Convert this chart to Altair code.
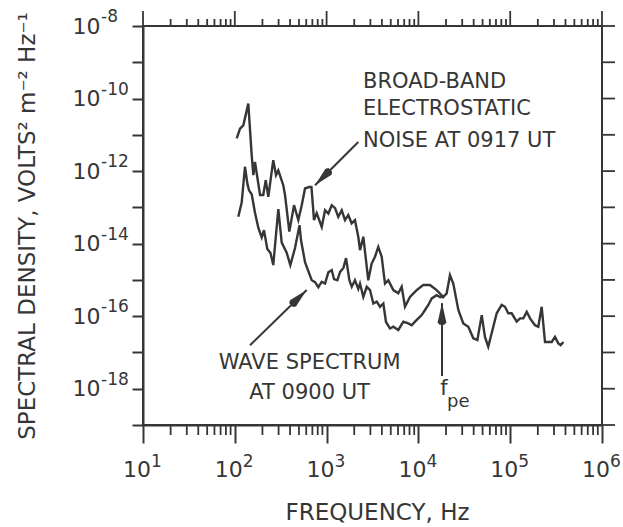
import altair as alt
import pandas as pd

FONT = "DejaVu Sans"
INK = "#363636"

# Broad-band electrostatic noise at 0917 UT
# log10 frequency (Hz) / log10 spectral density (V^2 m^-2 Hz^-1)
bbn_logf = [2.021, 2.057, 2.093, 2.147, 2.184, 2.202, 2.220, 2.275, 2.310, 2.337,
            2.365, 2.419, 2.449, 2.474, 2.528, 2.547, 2.594, 2.645, 2.692, 2.729,
            2.765, 2.808, 2.835, 2.863, 2.892, 2.947, 2.983, 3.019, 3.056, 3.092,
            3.127, 3.165, 3.200, 3.236, 3.273, 3.309, 3.345, 3.364, 3.400, 3.454,
            3.491, 3.527, 3.563, 3.600, 3.636, 3.672, 3.727, 3.781, 3.818, 3.854,
            3.908, 3.981, 4.053, 4.126, 4.199, 4.271, 4.308, 4.344, 4.380, 4.435,
            4.489, 4.544, 4.598, 4.642, 4.690, 4.725, 4.761, 4.798, 4.853, 4.907,
            4.943, 4.979, 5.016, 5.071, 5.107, 5.143, 5.180, 5.216, 5.270, 5.306,
            5.343, 5.379, 5.452, 5.488, 5.524, 5.550, 5.579]
bbn_logs = [-11.10, -10.83, -10.74, -10.14, -11.56, -12.11, -11.75, -12.66, -12.66, -12.25,
            -12.71, -11.70, -12.11, -11.98, -12.39, -12.66, -13.67, -12.94, -13.35, -12.94,
            -12.48, -12.44, -12.44, -13.35, -13.16, -13.54, -13.08, -13.17, -12.94, -13.02,
            -13.26, -13.08, -13.35, -13.21, -13.44, -13.35, -13.81, -14.18, -13.81, -15.01,
            -14.55, -14.36, -14.09, -14.36, -15.10, -15.01, -15.28, -15.37, -15.19, -15.74,
            -15.47, -15.28, -15.14, -15.14, -15.28, -15.47, -15.37, -14.87, -15.10, -15.83,
            -16.20, -16.29, -16.61, -16.66, -15.97, -16.57, -16.84, -16.47, -15.92, -15.69,
            -15.74, -15.92, -15.92, -16.15, -16.06, -16.06, -15.88, -16.06, -16.25, -16.29,
            -15.74, -16.71, -16.71, -16.57, -16.75, -16.80, -16.71]

# Wave spectrum at 0900 UT
wave_logf = [2.038, 2.075, 2.111, 2.138, 2.155, 2.184, 2.220, 2.256, 2.293, 2.318,
             2.354, 2.389, 2.419, 2.474, 2.511, 2.565, 2.605, 2.656, 2.705, 2.721,
             2.765, 2.801, 2.838, 2.874, 2.910, 2.947, 2.983, 3.019, 3.056, 3.081,
             3.117, 3.147, 3.183, 3.212, 3.248, 3.274, 3.309, 3.345, 3.364, 3.400,
             3.437, 3.473, 3.509, 3.546, 3.582, 3.618, 3.647, 3.691, 3.727, 3.781,
             3.836, 3.890, 3.927, 3.963, 3.999, 4.036, 4.072, 4.108, 4.145, 4.199,
             4.235, 4.271]
wave_logs = [-13.26, -12.87, -11.88, -12.36, -12.53, -12.64, -13.15, -13.56, -13.83, -13.63,
             -14.15, -14.26, -14.59, -13.05, -13.97, -14.25, -14.59, -14.12, -13.49, -13.90,
             -14.51, -14.76, -15.01, -15.06, -15.20, -15.05, -15.10, -14.79, -14.73, -14.98,
             -15.01, -14.78, -14.67, -14.40, -15.01, -15.19, -15.01, -15.25, -15.10, -15.47,
             -15.19, -15.28, -15.65, -15.60, -15.74, -15.65, -16.16, -16.34, -16.29, -16.38,
             -16.15, -16.20, -16.25, -16.15, -16.06, -15.97, -15.83, -15.69, -15.51, -15.42,
             -15.47, -15.47]

# Axes
x_decades = [1, 2, 3, 4, 5, 6]
y_decades = list(range(-19, -7))
y_labelled = [-18, -16, -14, -12, -10, -8]

# Annotations (log10 positions)
bbn_note = ["BROAD-BAND", "ELECTROSTATIC", "NOISE AT 0917 UT"]
bbn_note_logf = [3.397, 3.397, 3.397]
bbn_note_logs = [-9.54, -10.29, -11.18]
wave_note = ["WAVE SPECTRUM", "AT 0900 UT"]
wave_note_logf = [2.815, 2.815]
wave_note_logs = [-17.29, -18.12]
fpe_note = ["f", "pe"]
fpe_note_logf = [4.279, 4.312]
fpe_note_logs = [-18.01, -18.36]

arrow_tail_logf = [3.345, 2.166, 4.257]
arrow_tail_logs = [-11.20, -16.80, -17.65]
arrow_tip_logf = [2.874, 2.783, 4.257]
arrow_tip_logs = [-12.39, -15.28, -15.64]
arrow_angle = [225, 46, 0]

W, H = 459, 399


def p10(vals):
    return [10.0 ** v for v in vals]


xscale = alt.Scale(type="log", domain=[10, 1e6], nice=False)
yscale = alt.Scale(type="log", domain=[1e-19, 1e-8], nice=False)

X = alt.X(
    "freq:Q", scale=xscale,
    axis=alt.Axis(
        values=p10(x_decades), labels=False, tickSize=18, tickWidth=2,
        domainWidth=2, grid=False,
        title="FREQUENCY, Hz", titleFontSize=23, titleFontWeight="normal",
        titleX=234, titleY=87, titleBaseline="middle",
    ),
)
Y = alt.Y(
    "psd:Q", scale=yscale,
    axis=alt.Axis(
        values=p10(y_decades),
        labelExpr="round(log(datum.value)/LN10) % 2 == 0 ? '10' : ''",
        tickSize=11, tickWidth=2, domainWidth=2, labelFontSize=22, labelPadding=32,
        labelOverlap=False, labelFlush=False, labelBound=False, grid=False,
        title="SPECTRAL DENSITY, VOLTS² m⁻² Hz⁻¹", titleFontSize=23,
        titleFontWeight="normal", titleX=-116, titleBaseline="middle",
    ),
)

bbn_df = pd.DataFrame({"freq": p10(bbn_logf), "psd": p10(bbn_logs)})
wave_df = pd.DataFrame({"freq": p10(wave_logf), "psd": p10(wave_logs)})

line_bbn = alt.Chart(bbn_df).mark_line(color=INK, strokeWidth=2.4).encode(x=X, y=Y)
line_wave = alt.Chart(wave_df).mark_line(color=INK, strokeWidth=2.4).encode(x=X, y=Y)

x_minor = [m * 10.0 ** k for k in range(1, 6) for m in range(2, 10)]
minor_df = pd.DataFrame({"freq": x_minor})
major_df = pd.DataFrame({"freq": p10(x_decades)})
ydec_df = pd.DataFrame({"psd": p10(y_decades)})

tick_kw = dict(color=INK, strokeWidth=1.8)
bottom_minor = alt.Chart(minor_df).mark_rule(**tick_kw).encode(
    x=X, y=alt.value(H), y2=alt.value(H + 10))
top_major = alt.Chart(major_df).mark_rule(**tick_kw).encode(
    x=X, y=alt.value(0), y2=alt.value(-15))
top_minor = alt.Chart(minor_df).mark_rule(**tick_kw).encode(
    x=X, y=alt.value(0), y2=alt.value(-7))
right_ticks = alt.Chart(ydec_df).mark_rule(**tick_kw).encode(
    y=Y, x=alt.value(W), x2=alt.value(W + 13))

x_lab_df = pd.DataFrame({"freq": p10(x_decades), "base": ["10"] * len(x_decades),
                         "label": [str(k) for k in x_decades]})
x_base = alt.Chart(x_lab_df).mark_text(
    font=FONT, color=INK, fontSize=22, align="center", baseline="middle", dx=-6
).encode(x=X, y=alt.value(H + 45), text="base:N")
x_exp = alt.Chart(x_lab_df).mark_text(
    font=FONT, color=INK, fontSize=17, align="left", baseline="middle", dx=8
).encode(x=X, y=alt.value(H + 37), text="label:N")

y_exp_df = pd.DataFrame({"psd": p10(y_labelled), "label": [str(k) for k in y_labelled]})
y_exp = alt.Chart(y_exp_df).mark_text(
    font=FONT, color=INK, fontSize=17, align="left", baseline="middle", dy=-9
).encode(y=Y, x=alt.value(-42), text="label:N")

arrows_df = pd.DataFrame({
    "freq": p10(arrow_tail_logf), "psd": p10(arrow_tail_logs),
    "freq2": p10(arrow_tip_logf), "psd2": p10(arrow_tip_logs),
})
shafts = alt.Chart(arrows_df).mark_rule(color=INK, strokeWidth=2).encode(
    x=X, y=Y, x2="freq2:Q", y2="psd2:Q")

heads_df = pd.DataFrame({"freq": p10(arrow_tip_logf), "psd": p10(arrow_tip_logs),
                         "angle": arrow_angle})
heads = alt.Chart(heads_df).mark_point(
    shape="M0,0L0.5,2.2L0.3,2.5L-0.3,2.5L-0.5,2.2Z", filled=True, size=300,
    color=INK, opacity=1
).encode(x=X, y=Y, angle=alt.Angle("angle:Q", scale=None))


def notes(labels, lf, ls, **kw):
    df = pd.DataFrame({"freq": p10(lf), "psd": p10(ls), "label": labels})
    return alt.Chart(df).mark_text(font=FONT, color=INK, baseline="middle", **kw).encode(
        x=X, y=Y, text="label:N")


t_bbn = notes(bbn_note, bbn_note_logf, bbn_note_logs, align="left", fontSize=21)
t_wave = notes(wave_note, wave_note_logf, wave_note_logs, align="center", fontSize=21)
t_f = notes(fpe_note[:1], fpe_note_logf[:1], fpe_note_logs[:1], align="center", fontSize=21)
t_pe = notes(fpe_note[1:], fpe_note_logf[1:], fpe_note_logs[1:], align="left", fontSize=18)

chart = alt.layer(
    line_bbn, line_wave, bottom_minor, top_major, top_minor, right_ticks,
    x_base, x_exp, y_exp, shafts, heads, t_bbn, t_wave, t_f, t_pe,
).properties(
    width=W, height=H,
    autosize=alt.AutoSizeParams(type="none"),
    padding={"left": 143, "top": 26, "right": 21, "bottom": 102},
    background="white",
).configure_view(
    stroke=INK, strokeWidth=2
).configure_axis(
    domainColor=INK, tickColor=INK, labelColor=INK, titleColor=INK,
    labelFont=FONT, titleFont=FONT,
)

chart.save("out.html", embed_options={"renderer": "svg", "actions": False})
